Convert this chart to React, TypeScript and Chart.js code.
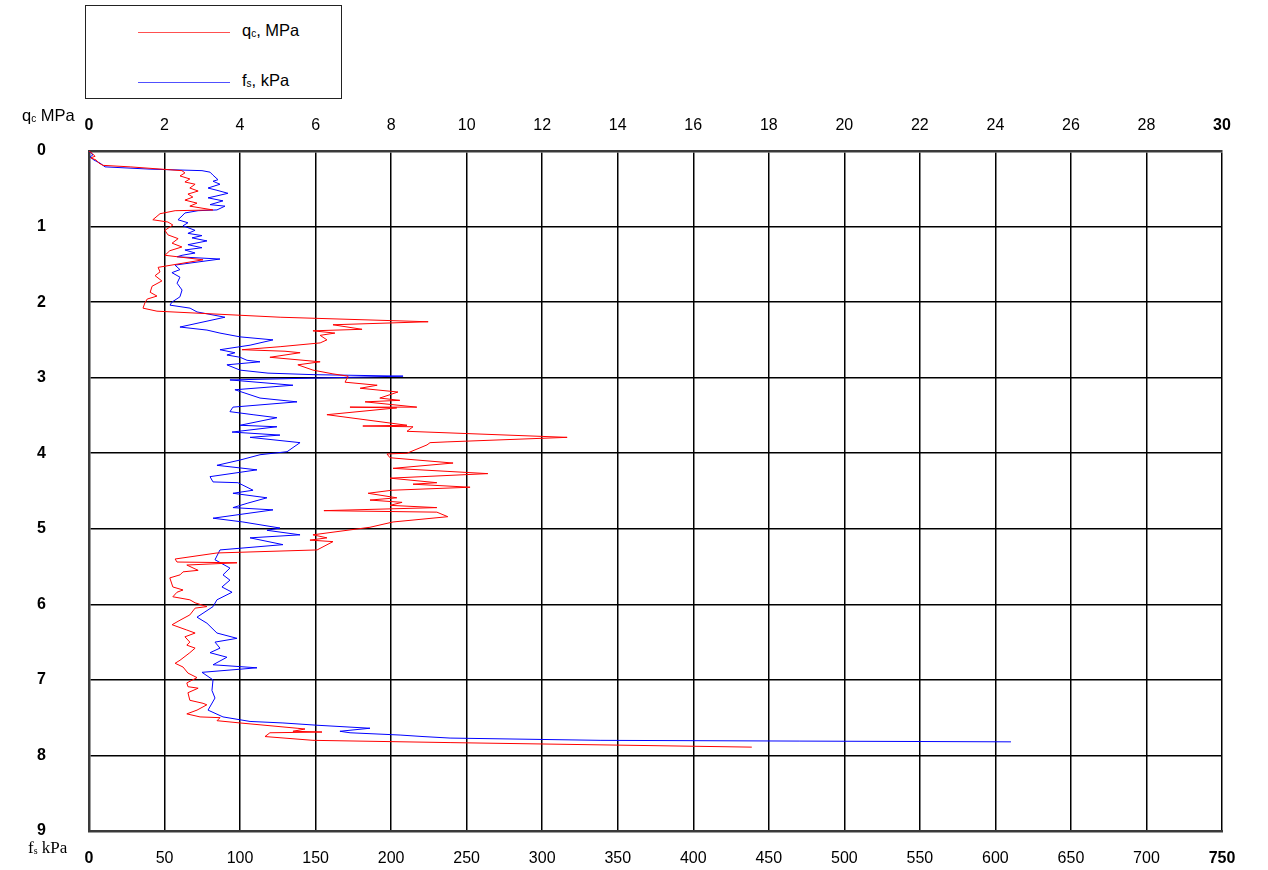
import React, { useEffect, useRef } from "react";
import { Chart, registerables } from "chart.js";

Chart.register(...registerables);

// Depth (m) and cone resistance qc (MPa)
const qcDepth = [
  0, 0.03, 0.07, 0.09, 0.12, 0.16, 0.19, 0.21, 0.26, 0.29, 0.33, 0.37, 0.41, 0.44, 0.49, 0.53, 0.57, 0.61, 0.65, 0.69,
  0.73, 0.78, 0.79, 0.83, 0.91, 0.94, 0.98, 1.05, 1.11, 1.16, 1.22, 1.27, 1.32, 1.38, 1.44, 1.54, 1.6, 1.65, 1.72, 1.79,
  1.87, 1.92, 1.96, 2.01, 2.08, 2.12, 2.2, 2.26, 2.3, 2.36, 2.38, 2.41, 2.44, 2.5, 2.54, 2.59, 2.63, 2.65, 2.67, 2.73,
  2.79, 2.83, 2.9, 2.95, 2.98, 3.06, 3.1, 3.14, 3.19, 3.27, 3.3, 3.32, 3.39, 3.39, 3.4, 3.49, 3.63, 3.64, 3.65, 3.71,
  3.79, 3.85, 3.86, 3.89, 4.0, 4.01, 4.06, 4.13, 4.2, 4.24, 4.27, 4.33, 4.39, 4.41, 4.45, 4.49, 4.53, 4.59, 4.62, 4.65,
  4.69, 4.72, 4.76, 4.78, 4.84, 4.91, 4.98, 5.08, 5.12, 5.15, 5.17, 5.28, 5.32, 5.4, 5.44, 5.45, 5.48, 5.55, 5.57, 5.61,
  5.65, 5.77, 5.81, 5.84, 5.9, 5.94, 5.98, 6.03, 6.05, 6.14, 6.21, 6.27, 6.34, 6.38, 6.43, 6.5, 6.54, 6.58, 6.64, 6.74,
  6.78, 6.83, 6.91, 6.97, 7.04, 7.09, 7.11, 7.17, 7.27, 7.31, 7.33, 7.4, 7.45, 7.49, 7.5, 7.54, 7.57, 7.64, 7.65, 7.68,
  7.69, 7.7, 7.75, 7.8, 7.83, 7.89,
];
const qcValues = [
  0, 0.08, 0.16, 0.05, 0.19, 0.26, 0.37, 1.09, 2.46, 2.54, 2.41, 2.67, 2.54, 2.81, 2.67, 2.89, 2.62, 2.75, 2.54, 2.86,
  2.67, 3.28, 2.28, 1.88, 1.69, 2.09, 2.22, 2.01, 2.09, 2.36, 2.2, 2.46, 2.14, 2.01, 3.02, 1.83, 1.88, 1.75, 1.93, 1.67,
  1.62, 1.8, 1.54, 1.48, 1.43, 1.8, 5.06, 8.98, 6.46, 7.23, 5.93, 6.51, 6.12, 6.3, 6.12, 5.06, 4.05, 5.19, 5.59, 4.79,
  6.12, 5.53, 5.93, 6.46, 6.86, 6.78, 7.63, 7.18, 8.18, 7.7, 8.23, 7.31, 8.68, 6.91, 8.15, 6.3, 8.42, 7.25, 8.58, 8.42,
  12.66, 9.48, 9.03, 8.95, 8.42, 7.89, 7.97, 9.64, 8.05, 9.48, 10.56, 7.97, 9.21, 8.58, 10.09, 8.02, 7.39, 8.15, 7.44, 8.29,
  7.97, 9.21, 6.22, 9.21, 9.5, 8.05, 7.44, 5.93, 6.3, 5.85, 6.46, 6.04, 3.39, 2.28, 2.33, 3.92, 2.59, 2.89, 2.49, 2.41,
  2.14, 2.22, 2.49, 2.33, 2.22, 2.67, 2.81, 3.12, 2.81, 2.67, 2.41, 2.2, 2.59, 2.81, 2.54, 2.67, 2.59, 2.81, 2.67, 2.41,
  2.28, 2.49, 2.62, 2.86, 2.59, 2.62, 2.89, 2.62, 2.67, 3.02, 3.12, 2.86, 2.59, 2.94, 3.47, 3.39, 4.0, 5.51, 5.72, 5.4,
  6.17, 4.79, 4.66, 5.93, 9.56, 17.55,
];

// Depth (m) and sleeve friction fs (kPa)
const fsDepth = [
  0, 0.03, 0.05, 0.08, 0.12, 0.16, 0.21, 0.24, 0.26, 0.28, 0.32, 0.38, 0.4, 0.44, 0.49, 0.52, 0.56, 0.6, 0.62, 0.66,
  0.71, 0.73, 0.78, 0.79, 0.82, 0.86, 0.91, 0.95, 0.99, 1.05, 1.09, 1.12, 1.15, 1.19, 1.24, 1.28, 1.31, 1.35, 1.38, 1.4,
  1.43, 1.51, 1.57, 1.61, 1.67, 1.75, 1.84, 1.93, 2.0, 2.04, 2.08, 2.13, 2.2, 2.33, 2.37, 2.41, 2.46, 2.5, 2.57, 2.63,
  2.67, 2.7, 2.73, 2.77, 2.79, 2.83, 2.9, 2.94, 2.96, 2.98, 3.03, 3.1, 3.16, 3.27, 3.32, 3.39, 3.45, 3.49, 3.53, 3.63,
  3.65, 3.72, 3.76, 3.79, 3.86, 3.98, 4.02, 4.09, 4.16, 4.22, 4.31, 4.38, 4.39, 4.49, 4.53, 4.59, 4.66, 4.72, 4.75, 4.86,
  4.91, 4.99, 5.02, 5.08, 5.12, 5.21, 5.28, 5.41, 5.52, 5.61, 5.68, 5.77, 5.84, 5.94, 6.03, 6.17, 6.25, 6.38, 6.45, 6.5,
  6.58, 6.64, 6.7, 6.8, 6.84, 6.9, 7.0, 7.14, 7.24, 7.4, 7.49, 7.55, 7.57, 7.6, 7.64, 7.68, 7.7, 7.73, 7.75, 7.77,
  7.8, 7.81, 7.82,
];
const fsValues = [
  0, 1.3, 2.6, 0.7, 3.3, 7.3, 10.6, 40.4, 74.8, 80.1, 82.1, 85.4, 82.1, 86.7, 78.8, 84.7, 92, 83.4, 78.8, 88.7,
  80.1, 90, 84.7, 72.2, 63.5, 61.6, 58.9, 65.5, 62.2, 70.2, 65.5, 74.8, 68.2, 78.1, 65.5, 74.8, 63.5, 70.2, 61.6, 58.3,
  86.7, 56.9, 60.2, 54.9, 60.2, 58.3, 61.6, 60.2, 54.9, 53.6, 66.9, 71.5, 90, 60.2, 78.1, 86.7, 100, 121.8, 106.6, 86.7,
  96.6, 91.3, 100, 104.6, 113.2, 91.3, 100, 118.5, 148.3, 207.9, 93.3, 135, 96.6, 113.2, 137.7, 95.3, 93.3, 108.6, 124.4, 100,
  124.4, 94.7, 126.4, 106.6, 139.7, 131.1, 113.2, 100, 84.7, 111.2, 80.1, 82.1, 98.6, 108.6, 95.3, 117.8, 105.2, 95.3, 121.8, 82.1,
  101.9, 126.4, 117.8, 139.7, 106.6, 128.4, 86.7, 83.4, 93.3, 88.7, 93.3, 88, 94.7, 84.7, 82.1, 71.5, 78.1, 84.7, 98, 83.4,
  86.7, 80.1, 91.3, 82.1, 111.2, 74.8, 82.1, 81.4, 83.4, 78.8, 88.7, 106.6, 128.4, 150.9, 186, 166.1, 172.8, 205.9, 221.1, 239,
  338.3, 470.6, 610.3,
];

const depthTicks = [0, 1, 2, 3, 4, 5, 6, 7, 8, 9];
const qcTicks = [0, 2, 4, 6, 8, 10, 12, 14, 16, 18, 20, 22, 24, 26, 28, 30];
const fsTicks = [0, 50, 100, 150, 200, 250, 300, 350, 400, 450, 500, 550, 600, 650, 700, 750];

const FONT = "Arial, 'Liberation Sans', Helvetica, sans-serif";

export default function App() {
  const ref = useRef<HTMLCanvasElement | null>(null);

  useEffect(() => {
    if (!ref.current) return;
    const qcPts = qcValues.map((v, i) => ({ x: v, y: qcDepth[i] }));
    const fsPts = fsValues.map((v, i) => ({ x: v, y: fsDepth[i] }));
    const edgeFont = (lastIdx: number, size: number) => (ctx: any) => ({
      family: FONT,
      size,
      weight: ctx.index === 0 || ctx.index === lastIdx ? "bold" : "normal",
    });
    const chart = new Chart(ref.current, {
      type: "scatter",
      data: {
        datasets: [
          {
            label: "qc, MPa",
            data: qcPts,
            xAxisID: "x",
            yAxisID: "y",
            showLine: true,
            borderColor: "#ff0000",
            backgroundColor: "#ff0000",
            borderWidth: 1,
            pointRadius: 0,
            tension: 0,
          },
          {
            label: "fs, kPa",
            data: fsPts,
            xAxisID: "x2",
            yAxisID: "y",
            showLine: true,
            borderColor: "#0000ff",
            backgroundColor: "#0000ff",
            borderWidth: 1,
            pointRadius: 0,
            tension: 0,
          },
        ],
      },
      options: {
        responsive: false,
        animation: false,
        layout: { padding: { left: 37, right: 46, top: 0, bottom: 0 } },
        plugins: { legend: { display: false }, tooltip: { enabled: false } },
        scales: {
          x: {
            type: "linear",
            position: "top",
            min: 0,
            max: 30,
            afterBuildTicks: (s: any) => {
              s.ticks = qcTicks.map((v) => ({ value: v }));
            },
            afterFit: (s: any) => {
              s.height = 151;
            },
            grid: { color: "#000", lineWidth: 1.5, drawTicks: false },
            border: { display: true, color: "#3a3a3a", width: 2.5 },
            ticks: {
              color: "#000",
              padding: 16,
              autoSkip: false,
              maxRotation: 0,
              font: edgeFont(qcTicks.length - 1, 16) as any,
            },
          },
          x2: {
            type: "linear",
            position: "bottom",
            min: 0,
            max: 750,
            afterBuildTicks: (s: any) => {
              s.ticks = fsTicks.map((v) => ({ value: v }));
            },
            afterFit: (s: any) => {
              s.height = 39;
            },
            grid: { display: false, drawTicks: false },
            border: { display: true, color: "#3a3a3a", width: 2.5 },
            ticks: {
              color: "#000",
              padding: 18,
              autoSkip: false,
              maxRotation: 0,
              font: edgeFont(fsTicks.length - 1, 16) as any,
            },
          },
          y: {
            type: "linear",
            position: "left",
            reverse: true,
            min: 0,
            max: 9,
            afterBuildTicks: (s: any) => {
              s.ticks = depthTicks.map((v) => ({ value: v }));
            },
            afterFit: (s: any) => {
              s.width = 52;
            },
            grid: { color: "#000", lineWidth: 1.5, drawTicks: false },
            border: { display: true, color: "#3a3a3a", width: 2.5 },
            ticks: {
              color: "#000",
              padding: 0,
              crossAlign: "far",
              autoSkip: false,
              font: { family: FONT, size: 16, weight: "bold" } as any,
            },
          },
        },
      },
    });
    return () => chart.destroy();
  }, []);

  const txt: React.CSSProperties = {
    position: "absolute",
    fontFamily: FONT,
    fontSize: 16.5,
    color: "#000",
    whiteSpace: "nowrap",
    lineHeight: "18px",
  };
  const sub: React.CSSProperties = { fontSize: 10, verticalAlign: "baseline", position: "relative", top: 1 };

  return (
    <div style={{ position: "absolute", left: 0, top: 0, width: 1268, height: 870, background: "#fff" }}>
      <canvas ref={ref} width={1268} height={870} style={{ position: "absolute", left: 0, top: 0 }} />
      <div
        style={{
          position: "absolute",
          left: 85,
          top: 5,
          width: 257,
          height: 94,
          border: "1px solid #222",
          boxSizing: "border-box",
          background: "#fff",
        }}
      />
      <div style={{ position: "absolute", left: 138, top: 32, width: 92, height: 1, background: "#ff5050" }} />
      <div style={{ ...txt, left: 242, top: 21 }}>
        q<span style={sub}>c</span>, MPa
      </div>
      <div style={{ position: "absolute", left: 138, top: 82, width: 92, height: 1, background: "#5050ff" }} />
      <div style={{ ...txt, left: 242, top: 71 }}>
        f<span style={sub}>s</span>, kPa
      </div>
      <div style={{ ...txt, left: 22, top: 106 }}>
        q<span style={sub}>c</span> MPa
      </div>
      <div
        style={{
          ...txt,
          left: 28,
          top: 839,
          fontFamily: "'Liberation Serif', 'Times New Roman', serif",
          fontSize: 17,
        }}
      >
        f<span style={sub}>s</span> kPa
      </div>
    </div>
  );
}
